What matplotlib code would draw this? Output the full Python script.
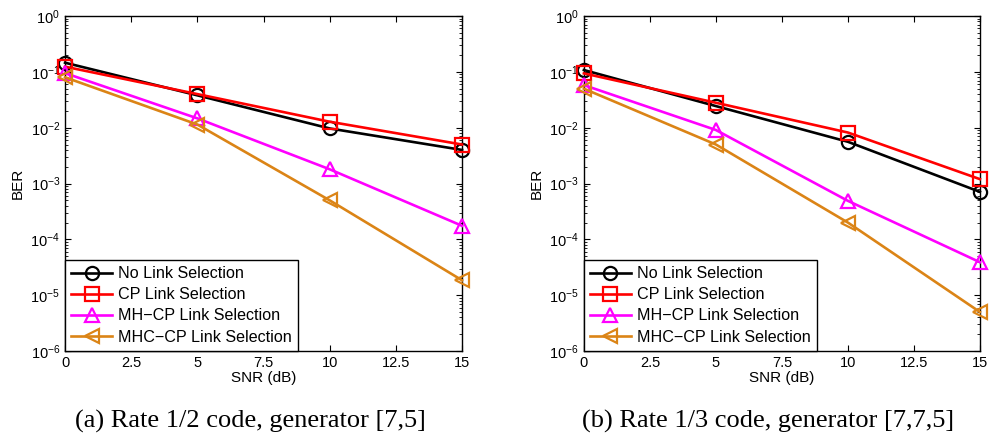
import matplotlib
matplotlib.use("Agg")
import matplotlib.pyplot as plt
from matplotlib.ticker import LogLocator, NullFormatter

plt.rcParams['font.family'] = ['Liberation Sans', 'DejaVu Sans']
plt.rcParams['mathtext.fontset'] = 'custom'
plt.rcParams['mathtext.rm'] = 'Liberation Sans'
plt.rcParams['mathtext.it'] = 'Liberation Sans:italic'

# ---------------------------
# Data
# ---------------------------
snr = [0, 5, 10, 15]
labels = ["No Link Selection", "CP Link Selection",
          "MH\u2212CP Link Selection", "MHC\u2212CP Link Selection"]

# (a) rate 1/2, generator [7,5]
ber_a_none  = [0.146, 0.038, 0.0097, 0.0040]
ber_a_cp    = [0.124, 0.040, 0.0128, 0.0050]
ber_a_mhcp  = [0.095, 0.0147, 0.0018, 0.000175]
ber_a_mhccp = [0.080, 0.0114, 0.00050, 1.85e-5]

# (b) rate 1/3, generator [7,7,5]
ber_b_none  = [0.108, 0.0244, 0.0056, 0.00071]
ber_b_cp    = [0.094, 0.028, 0.0082, 0.0012]
ber_b_mhcp  = [0.058, 0.0091, 0.00049, 3.9e-5]
ber_b_mhccp = [0.050, 0.0050, 0.00020, 5.0e-6]

captions = ["(a) Rate 1/2 code, generator [7,5]",
            "(b) Rate 1/3 code, generator [7,7,5]"]

xticks = [0, 2.5, 5, 7.5, 10, 12.5, 15]
xticklabels = ["0", "2.5", "5", "7.5", "10", "12.5", "15"]

styles = [("black", "o"), ("#FF0000", "s"), ("#FF00FF", "^"), ("#DB8416", "<")]


def draw_panel(ax, series):
    for (col, mk), ys, lab in zip(styles, series, labels):
        ax.plot(snr, ys, color=col, marker=mk, markersize=9.5, lw=1.9,
                markerfacecolor="none", markeredgewidth=1.6, label=lab,
                clip_on=False, zorder=3)
    ax.set_yscale("log")
    ax.set_xlim(0, 15)
    ax.set_ylim(1e-6, 1)
    ax.set_xticks(xticks)
    ax.set_xticklabels(xticklabels)
    ax.yaxis.set_major_locator(LogLocator(base=10, numticks=10))
    ax.yaxis.set_minor_locator(LogLocator(base=10, subs=range(2, 10), numticks=10))
    ax.yaxis.set_minor_formatter(NullFormatter())
    ax.tick_params(which="both", direction="in", top=True, right=True, labelsize=10.5)
    ax.tick_params(which="major", length=4, width=0.8)
    ax.tick_params(which="minor", length=2, width=0.6)
    for s in ax.spines.values():
        s.set_linewidth(1.0)
    ax.set_xlabel("SNR (dB)", fontsize=11, labelpad=1)
    ax.set_ylabel("BER", fontsize=11, labelpad=4)
    leg = ax.legend(loc="lower left", borderaxespad=0, fontsize=11.6,
                    handlelength=2.5, handletextpad=0.4, labelspacing=0.38,
                    borderpad=0.4, fancybox=False, framealpha=1,
                    edgecolor="black")
    leg.get_frame().set_linewidth(1.0)


fig = plt.figure(figsize=(9.93, 4.41), dpi=100)
ax1 = fig.add_axes([0.0655, 0.204, 0.3998, 0.7596])
ax2 = fig.add_axes([0.588, 0.204, 0.3988, 0.7596])

draw_panel(ax1, [ber_a_none, ber_a_cp, ber_a_mhcp, ber_a_mhccp])
draw_panel(ax2, [ber_b_none, ber_b_cp, ber_b_mhcp, ber_b_mhccp])

fig.text(250 / 993, 0.044, captions[0], ha="center", va="center",
         fontsize=19, family="Liberation Serif")
fig.text(768 / 993, 0.044, captions[1], ha="center", va="center",
         fontsize=19, family="Liberation Serif")

fig.savefig("out.png", dpi=100)
